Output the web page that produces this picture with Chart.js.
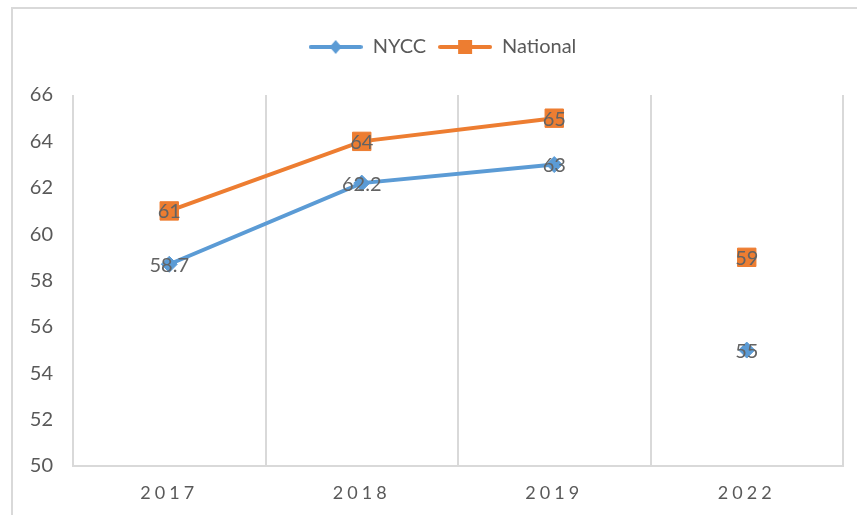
<!DOCTYPE html>
<html>
<head>
<meta charset="utf-8">
<script src="https://cdn.jsdelivr.net/npm/chart.js@4/dist/chart.umd.min.js"></script>
<style>
  html, body { margin: 0; padding: 0; background: #fff; }
  #wrap { position: relative; width: 857px; height: 515px; overflow: hidden; background: #fff; }
  #frame { position: absolute; left: 11px; top: 7px; width: 900px; height: 600px; border: 2px solid #d9d9d9; box-sizing: border-box; }
  canvas { position: absolute; left: 0; top: 0; }
</style>
</head>
<body>
<div id="wrap">
  <div id="frame"></div>
  <canvas id="c" width="857" height="515"></canvas>
</div>
<script>
const categories = ['2017', '2018', '2019', '2022'];
const nyccValues = [58.7, 62.2, 63, 55];
const nationalValues = [61, 64, 65, 59];
const seriesNames = ['NYCC', 'National'];
const yTicks = [50, 52, 54, 56, 58, 60, 62, 64, 66];

const BLUE = '#5B9BD5';
const ORANGE = '#ED7D31';
const GRAY = '#595959';
const GRID = '#d9d9d9';
const FONT = 'Lato, "Open Sans", sans-serif';

function legendImage(color, style) {
  const cv = document.createElement('canvas');
  cv.width = 54; cv.height = 16;
  const g = cv.getContext('2d');
  g.strokeStyle = color; g.lineWidth = 4; g.lineCap = 'round';
  g.beginPath(); g.moveTo(2, 8); g.lineTo(52, 8); g.stroke();
  g.fillStyle = color;
  if (style === 'diamond') {
    g.beginPath(); g.moveTo(27, 1); g.lineTo(33, 8); g.lineTo(27, 15); g.lineTo(21, 8); g.closePath(); g.fill();
  } else {
    g.fillRect(20, 1, 14, 14);
  }
  return cv;
}

const dataLabelPlugin = {
  id: 'dataLabels',
  afterDatasetsDraw(chart) {
    const ctx = chart.ctx;
    ctx.save();
    ctx.font = '20px ' + FONT;
    ctx.fillStyle = '#636363';
    ctx.textAlign = 'center';
    ctx.textBaseline = 'middle';
    chart.data.datasets.forEach((ds, i) => {
      const meta = chart.getDatasetMeta(i);
      meta.data.forEach((pt, j) => {
        ctx.fillText(String(ds.data[j]), pt.x, pt.y + 1);
      });
    });
    ctx.restore();
  }
};

const layoutPlugin = {
  id: 'layoutFix',
  beforeUpdate(chart) {
    const lg = chart.legend;
    if (lg && !lg._patched) {
      const origFit = lg.fit;
      lg.fit = function () { origFit.call(this); this.height = 70; };
      const origDraw = lg.draw;
      lg.draw = function () {
        const c = this.ctx;
        c.save();
        c.translate(20, 0);
        origDraw.call(this);
        c.restore();
      };
      lg._patched = true;
    }
  },
  beforeDraw(chart) {
    const sx = chart.scales.x;
    if (sx && !sx._lsPatched) {
      const origDraw = sx.drawLabels;
      sx.drawLabels = function (area) {
        const c = this.ctx;
        c.save();
        c.letterSpacing = '4px';
        origDraw.call(this, area);
        c.restore();
      };
      sx._lsPatched = true;
    }
  }
};

new Chart(document.getElementById('c'), {
  type: 'line',
  data: {
    labels: categories,
    datasets: [
      {
        label: seriesNames[0],
        data: nyccValues,
        borderColor: BLUE,
        backgroundColor: BLUE,
        borderWidth: 4,
        pointStyle: 'rectRot',
        pointRadius: 8,
        pointHoverRadius: 8,
        pointBorderWidth: 1,
        segment: { borderColor: c => c.p1DataIndex === 3 ? 'rgba(0,0,0,0)' : BLUE }
      },
      {
        label: seriesNames[1],
        data: nationalValues,
        borderColor: ORANGE,
        backgroundColor: ORANGE,
        borderWidth: 4,
        pointStyle: 'rect',
        pointRadius: 13,
        pointHoverRadius: 13,
        pointBorderWidth: 1,
        segment: { borderColor: c => c.p1DataIndex === 3 ? 'rgba(0,0,0,0)' : ORANGE }
      }
    ]
  },
  options: {
    responsive: false,
    animation: false,
    events: [],
    layout: { padding: { top: 25, right: 12, left: 0, bottom: 0 } },
    plugins: {
      tooltip: { enabled: false },
      legend: {
        position: 'top',
        labels: {
          usePointStyle: true,
          pointStyleWidth: 54,
          boxHeight: 16,
          padding: 12,
          color: GRAY,
          font: { family: FONT, size: 20 },
          generateLabels(chart) {
            return chart.data.datasets.map((ds, i) => ({
              text: ds.label,
              pointStyle: legendImage(ds.borderColor, i === 0 ? 'diamond' : 'square'),
              fillStyle: ds.borderColor,
              strokeStyle: ds.borderColor,
              lineWidth: 0,
              fontColor: GRAY,
              hidden: false,
              datasetIndex: i
            }));
          }
        }
      }
    },
    scales: {
      x: {
        offset: true,
        grid: { display: true, offset: true, color: GRID, lineWidth: 2, drawTicks: false },
        border: { display: true, color: GRID, width: 2 },
        ticks: { color: GRAY, padding: 16, font: { family: FONT, size: 18 } },
        afterFit(scale) { scale.height = 49; }
      },
      y: {
        min: 50,
        max: 66,
        afterBuildTicks(scale) { scale.ticks = yTicks.map(v => ({ value: v })); },
        grid: { display: false, drawTicks: false },
        border: { display: false },
        ticks: { color: GRAY, padding: 20, font: { family: FONT, size: 20 } },
        afterFit(scale) { scale.width = 73; }
      }
    }
  },
  plugins: [dataLabelPlugin, layoutPlugin]
});
</script>
</body>
</html>
